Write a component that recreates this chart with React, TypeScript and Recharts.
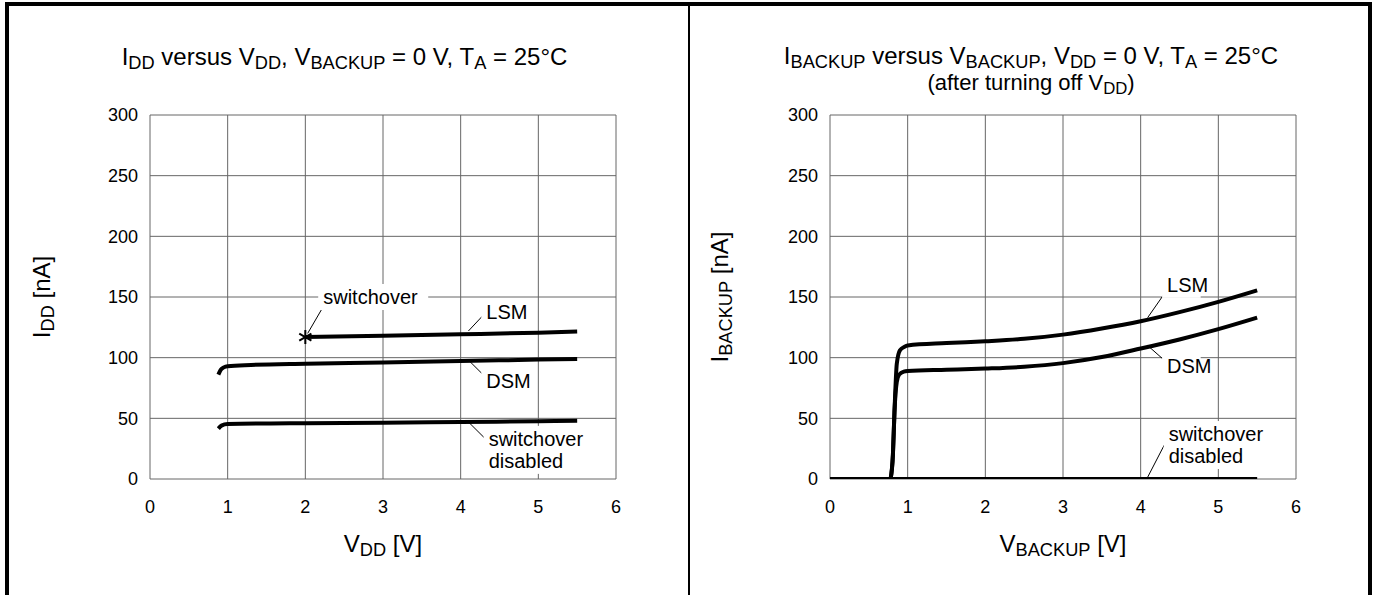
import React from "react";
import { LineChart, Line, XAxis, YAxis, CartesianGrid, ReferenceLine, ReferenceDot } from "recharts";

const voltTicks = [0, 1, 2, 3, 4, 5, 6];
const currentTicks = [0, 50, 100, 150, 200, 250, 300];

// left panel: I_DD vs V_DD
const iddLsm = [
  { v: 2.0, i: 117 },
  { v: 3.0, i: 118 },
  { v: 4.0, i: 119.2 },
  { v: 5.0, i: 120.6 },
  { v: 5.5, i: 121.5 },
];
const iddDsm = [
  { v: 0.88, i: 86 },
  { v: 0.91, i: 90 },
  { v: 0.95, i: 92 },
  { v: 1.0, i: 93 },
  { v: 1.3, i: 94 },
  { v: 2.0, i: 95 },
  { v: 3.0, i: 96 },
  { v: 4.0, i: 97.2 },
  { v: 5.0, i: 98.4 },
  { v: 5.5, i: 99 },
];
const iddDisabled = [
  { v: 0.88, i: 41.5 },
  { v: 0.92, i: 44 },
  { v: 1.0, i: 45.3 },
  { v: 2.0, i: 46 },
  { v: 3.0, i: 46.3 },
  { v: 4.0, i: 47 },
  { v: 5.0, i: 47.6 },
  { v: 5.5, i: 48 },
];

// right panel: I_BACKUP vs V_BACKUP
const ibkLsm = [
  { v: 0.78, i: 0 },
  { v: 0.81, i: 20 },
  { v: 0.83, i: 55 },
  { v: 0.86, i: 95 },
  { v: 0.9, i: 106 },
  { v: 0.96, i: 109 },
  { v: 1.0, i: 110 },
  { v: 1.5, i: 112 },
  { v: 2.0, i: 113.5 },
  { v: 2.5, i: 115.5 },
  { v: 3.0, i: 119 },
  { v: 3.5, i: 124 },
  { v: 4.0, i: 130 },
  { v: 4.5, i: 137.5 },
  { v: 5.0, i: 146 },
  { v: 5.5, i: 155.5 },
];
const ibkDsm = [
  { v: 0.78, i: 0 },
  { v: 0.81, i: 20 },
  { v: 0.83, i: 55 },
  { v: 0.86, i: 80 },
  { v: 0.89, i: 86 },
  { v: 0.95, i: 88.5 },
  { v: 1.0, i: 89 },
  { v: 1.5, i: 90 },
  { v: 2.0, i: 91 },
  { v: 2.5, i: 92.5 },
  { v: 3.0, i: 95.5 },
  { v: 3.5, i: 100.5 },
  { v: 4.0, i: 107.5 },
  { v: 4.5, i: 115 },
  { v: 5.0, i: 123.5 },
  { v: 5.5, i: 133 },
];
const ibkDisabled = [
  { v: 0, i: 0 },
  { v: 5.5, i: 0 },
];

const switchoverPoint = [{ v: 2.0, i: 117 }];

// annotations (data coordinates)
const iddNotes = [
  { v: 2.23, i: 150, lines: ["switchover"] },
  { v: 4.33, i: 138, lines: ["LSM"] },
  { v: 4.33, i: 81, lines: ["DSM"] },
  { v: 4.36, i: 24, lines: ["switchover", "disabled"] },
];
const iddLeaders = [
  [{ v: 2.23, i: 142 }, { v: 2.03, i: 120 }],
  [{ v: 4.1, i: 122 }, { v: 4.32, i: 137 }],
  [{ v: 4.1, i: 98 }, { v: 4.32, i: 84 }],
  [{ v: 4.1, i: 47 }, { v: 4.32, i: 33 }],
];
const ibkNotes = [
  { v: 4.34, i: 160, lines: ["LSM"] },
  { v: 4.34, i: 93, lines: ["DSM"] },
  { v: 4.36, i: 28, lines: ["switchover", "disabled"] },
];
const ibkLeaders = [
  [{ v: 4.09, i: 133 }, { v: 4.33, i: 155 }],
  [{ v: 4.09, i: 110 }, { v: 4.32, i: 97 }],
  [{ v: 4.09, i: 1.5 }, { v: 4.32, i: 30 }],
];

const FONT = "'Liberation Sans', Arial, sans-serif";

const NoteBox = (props: any) => {
  const { cx, cy, lines } = props;
  const lh = 22;
  const top = cy - (lines.length * lh) / 2;
  const w = Math.max(...lines.map((l: string) => l.length)) * 10.2 + 8;
  return (
    <g>
      <rect x={cx - 5} y={top - 2} width={w} height={lines.length * lh + 4} fill="#fff" />
      {lines.map((l: string, k: number) => (
        <text key={k} x={cx} y={top + lh * k + lh / 2} dy="0.35em" fontSize={20} fontFamily={FONT} fill="#000">
          {l}
        </text>
      ))}
    </g>
  );
};

const Asterisk = (props: any) => {
  const { cx, cy } = props;
  const r = 7;
  return (
    <g stroke="#000" strokeWidth={2}>
      <line x1={cx} y1={cy - r} x2={cx} y2={cy + r} />
      <line x1={cx - r * 0.87} y1={cy - r / 2} x2={cx + r * 0.87} y2={cy + r / 2} />
      <line x1={cx - r * 0.87} y1={cy + r / 2} x2={cx + r * 0.87} y2={cy - r / 2} />
    </g>
  );
};

function Panel({ series, notes, leaders, marker, margin, width }: any) {
  return (
    <LineChart width={width} height={595} margin={margin}>
      <CartesianGrid stroke="#666" strokeWidth={1} />
      <XAxis
        type="number"
        dataKey="v"
        domain={[0, 6]}
        ticks={voltTicks}
        height={30}
        axisLine={false}
        tickLine={false}
        tickSize={0}
        tickMargin={21}
        tick={{ fill: "#000", fontSize: 18, fontFamily: FONT }}
        allowDataOverflow
      />
      <YAxis
        type="number"
        dataKey="i"
        domain={[0, 300]}
        ticks={currentTicks}
        width={60}
        axisLine={false}
        tickLine={false}
        tickSize={0}
        tickMargin={12}
        tick={{ fill: "#000", fontSize: 18, fontFamily: FONT }}
        allowDataOverflow
      />
      {notes.map((n: any, k: number) => (
        <ReferenceDot
          key={"n" + k}
          x={n.v}
          y={n.i}
          r={0}
          ifOverflow="visible"
          shape={(p: any) => <NoteBox cx={p.cx} cy={p.cy} lines={n.lines} />}
        />
      ))}
      {leaders.map((s: any, k: number) => (
        <ReferenceLine
          key={"l" + k}
          segment={[{ x: s[0].v, y: s[0].i }, { x: s[1].v, y: s[1].i }]}
          stroke="#000"
          strokeWidth={1}
          ifOverflow="visible"
        />
      ))}
      {series.map((d: any, k: number) => (
        <Line
          key={"s" + k}
          data={d}
          dataKey="i"
          type="monotone"
          stroke="#000"
          strokeWidth={4}
          dot={false}
          isAnimationActive={false}
        />
      ))}
      {marker &&
        marker.map((m: any, k: number) => (
          <ReferenceDot key={"m" + k} x={m.v} y={m.i} r={0} shape={(p: any) => <Asterisk cx={p.cx} cy={p.cy} />} />
        ))}
    </LineChart>
  );
}

const Sub = ({ children }: any) => (
  <span style={{ fontSize: "0.76em", position: "relative", top: "0.24em" }}>{children}</span>
);

const abs = (style: any) => ({ position: "absolute" as const, fontFamily: FONT, color: "#000", whiteSpace: "nowrap" as const, lineHeight: 1, ...style });

export default function App() {
  return (
    <div style={{ position: "absolute", left: 0, top: 0, width: 1378, height: 595, background: "#fff", overflow: "hidden" }}>
      {/* frame */}
      <div style={{ position: "absolute", left: 5, top: 2, width: 1367, height: 4, background: "#000" }} />
      <div style={{ position: "absolute", left: 5, top: 2, width: 4, height: 593, background: "#000" }} />
      <div style={{ position: "absolute", left: 1368, top: 2, width: 4, height: 593, background: "#000" }} />
      <div style={{ position: "absolute", left: 688, top: 2, width: 2, height: 593, background: "#000" }} />

      <div style={{ position: "absolute", left: 0, top: 0 }}>
        <Panel
          width={689}
          margin={{ top: 115, right: 73, bottom: 86, left: 90 }}
          series={[iddLsm, iddDsm, iddDisabled]}
          notes={iddNotes}
          leaders={iddLeaders}
          marker={switchoverPoint}
        />
      </div>
      <div style={{ position: "absolute", left: 690, top: 0 }}>
        <Panel
          width={688}
          margin={{ top: 115, right: 82, bottom: 86, left: 80 }}
          series={[ibkLsm, ibkDsm, ibkDisabled]}
          notes={ibkNotes}
          leaders={ibkLeaders}
        />
      </div>

      {/* titles */}
      <div style={abs({ left: 0, width: 689, top: 45, fontSize: 24, textAlign: "center" })}>
        I<Sub>DD</Sub> versus V<Sub>DD</Sub>, V<Sub>BACKUP</Sub> = 0 V, T<Sub>A</Sub> = 25°C
      </div>
      <div style={abs({ left: 690, width: 682, top: 44, fontSize: 24, textAlign: "center" })}>
        I<Sub>BACKUP</Sub> versus V<Sub>BACKUP</Sub>, V<Sub>DD</Sub> = 0 V, T<Sub>A</Sub> = 25°C
      </div>
      <div style={abs({ left: 690, width: 682, top: 72, fontSize: 22, textAlign: "center" })}>
        (after turning off V<Sub>DD</Sub>)
      </div>

      {/* axis titles */}
      <div style={abs({ left: 150, width: 466, top: 532, fontSize: 24, textAlign: "center" })}>
        V<Sub>DD</Sub> [V]
      </div>
      <div style={abs({ left: 830, width: 466, top: 532, fontSize: 24, textAlign: "center" })}>
        V<Sub>BACKUP</Sub> [V]
      </div>
      <div style={abs({ left: 42, top: 297, fontSize: 24, transform: "translate(-50%, -50%) rotate(-90deg)" })}>
        I<Sub>DD</Sub> [nA]
      </div>
      <div style={abs({ left: 720, top: 297, fontSize: 24, transform: "translate(-50%, -50%) rotate(-90deg)" })}>
        I<Sub>BACKUP</Sub> [nA]
      </div>
    </div>
  );
}
